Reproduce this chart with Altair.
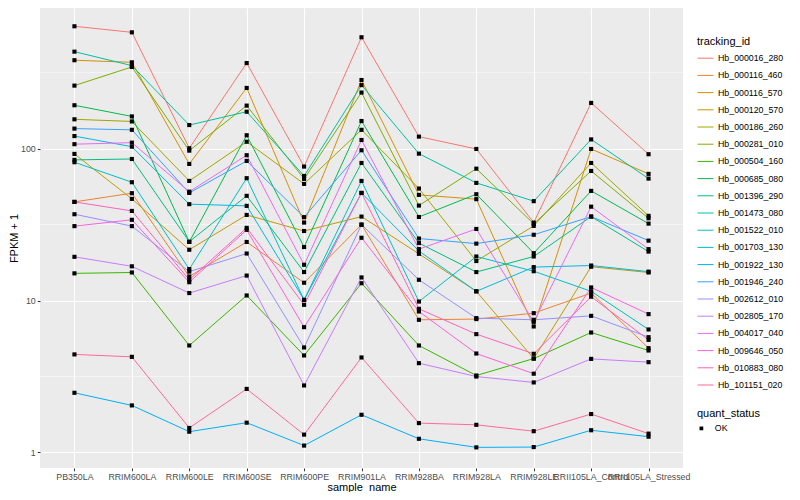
import math
import altair as alt
import pandas as pd

samples = ["PB350LA", "RRIM600LA", "RRIM600LE", "RRIM600SE", "RRIM600PE", "RRIM901LA",
           "RRIM928BA", "RRIM928LA", "RRIM928LE", "RRII105LA_Control", "RRII105LA_Stressed"]

tracking_ids = ["Hb_000016_280", "Hb_000116_460", "Hb_000116_570", "Hb_000120_570", "Hb_000186_260",
                "Hb_000281_010", "Hb_000504_160", "Hb_000685_080", "Hb_001396_290", "Hb_001473_080",
                "Hb_001522_010", "Hb_001703_130", "Hb_001922_130", "Hb_001946_240", "Hb_002612_010",
                "Hb_002805_170", "Hb_004017_040", "Hb_009646_050", "Hb_010883_080", "Hb_101151_020"]

# FPKM + 1 per sample, in the order of `samples`
hb_000016_280 = [639, 583, 100.6, 366, 76.2, 541, 120, 99.5, 32.6, 200, 91.9]
hb_000116_460 = [44.6, 50.9, 14.4, 24.3, 13.1, 31.6, 7.47, 7.55, 8.26, 11.2, 4.86]
hb_000116_570 = [382, 370, 79.3, 251, 32.6, 283, 49.6, 46.5, 6.75, 99.5, 68.2]
hb_000120_570 = [92.3, 46.7, 21.6, 36.6, 28.7, 35.7, 20.3, 11.5, 4.15, 16.7, 15.3]
hb_000186_260 = [156, 151, 61.3, 111, 58.6, 133, 54.6, 18.2, 31.0, 80.5, 36.1]
hb_000281_010 = [260, 345, 97, 192, 63.2, 234, 42.2, 73.8, 32.0, 71.3, 34.8]
hb_000504_160 = [15.1, 15.3, 5.06, 10.8, 4.35, 13.0, 5.06, 3.21, 4.15, 6.16, 4.69]
hb_000685_080 = [193, 163, 24.3, 122.5, 22.5, 152, 35.5, 50.1, 20.5, 52.7, 32.1]
hb_001396_290 = [84.3, 85.5, 24.4, 48.9, 15.4, 80.5, 23.9, 15.4, 19.5, 35.7, 21.0]
hb_001473_080 = [435, 352, 143, 175, 66.1, 262, 92.7, 59.5, 45.1, 115, 63.5]
hb_001522_010 = [81.4, 60.1, 16.1, 63.9, 10.1, 61.3, 9.85, 19.5, 15.6, 11.5, 6.45]
hb_001703_130 = [121, 103, 43.1, 42.0, 10.1, 51.1, 21.2, 11.5, 16.6, 17.0, 15.5]
hb_001922_130 = [2.47, 2.04, 1.37, 1.57, 1.11, 1.77, 1.23, 1.08, 1.085, 1.40, 1.27]
hb_001946_240 = [135.5, 133, 51.1, 83, 35.4, 97.6, 25.6, 23.7, 27.1, 35.7, 24.8]
hb_002612_010 = [37.0, 30.9, 15.5, 20.4, 4.91, 31.6, 13.7, 7.66, 7.47, 7.93, 5.74]
hb_002805_170 = [19.4, 16.8, 11.2, 14.6, 2.76, 14.2, 3.87, 3.16, 2.89, 4.13, 3.93]
hb_004017_040 = [107, 109.5, 52.1, 90.5, 17.2, 114, 21.8, 29.6, 7.24, 41.5, 21.8]
hb_009646_050 = [30.9, 34.0, 13.2, 29.2, 6.68, 25.9, 8.47, 4.48, 3.30, 12.2, 8.14]
hb_010883_080 = [44.6, 38.9, 13.7, 30.1, 9.37, 51.1, 8.82, 6.01, 4.46, 10.6, 5.51]
hb_101151_020 = [4.42, 4.26, 1.45, 2.62, 1.31, 4.22, 1.56, 1.52, 1.38, 1.79, 1.33]

series = [hb_000016_280, hb_000116_460, hb_000116_570, hb_000120_570, hb_000186_260,
          hb_000281_010, hb_000504_160, hb_000685_080, hb_001396_290, hb_001473_080,
          hb_001522_010, hb_001703_130, hb_001922_130, hb_001946_240, hb_002612_010,
          hb_002805_170, hb_004017_040, hb_009646_050, hb_010883_080, hb_101151_020]

major_breaks = [1, 10, 100]
minor_breaks = [3.1623, 31.623, 316.23]


def hcl_hex(h, c=100.0, l=65.0):
    hr = math.radians(h)
    U, V = c * math.cos(hr), c * math.sin(hr)
    Y = ((l + 16) / 116) ** 3
    xn, yn, zn = 95.047, 100.0, 108.883
    un = 4 * xn / (xn + 15 * yn + 3 * zn)
    vn = 9 * yn / (xn + 15 * yn + 3 * zn)
    u = U / (13 * l) + un
    v = V / (13 * l) + vn
    X = 9 * Y * u / (4 * v)
    Z = -X / 3 - 5 * Y + 3 * Y / v
    rgb = [3.240479 * X - 1.537150 * Y - 0.498535 * Z,
           -0.969256 * X + 1.875992 * Y + 0.041556 * Z,
           0.055648 * X - 0.204043 * Y + 1.057311 * Z]
    out = []
    for t in rgb:
        t = 12.92 * t if t <= 0.0031308 else 1.055 * t ** (1 / 2.4) - 0.055
        out.append(max(0, min(255, round(t * 255))))
    return "#%02X%02X%02X" % tuple(out)


n = len(tracking_ids)
palette = [hcl_hex(15 + 360 * k / n) for k in range(n)]

rows = []
for tid, vals in zip(tracking_ids, series):
    for s, v in zip(samples, vals):
        rows.append({"tracking_id": tid, "sample_name": s, "fpkm": v, "quant_status": "OK"})
df = pd.DataFrame(rows)
minor_df = pd.DataFrame({"fpkm": minor_breaks})

yscale = alt.Scale(type="log", domain=[0.79, 843], nice=False)
xenc = alt.X("sample_name:N", sort=samples, scale=alt.Scale(type="point", padding=0.6),
             title="sample_name",
             axis=alt.Axis(labelAngle=0, labelOverlap=False, grid=True, gridColor="white",
                           gridWidth=1.07, domain=False, tickColor="#333333", tickSize=2.75,
                           labelColor="#4D4D4D", labelFontSize=8.8, labelPadding=1.5,
                           titleFontSize=11, titleFontWeight="normal", titleColor="black",
                           titlePadding=0))
yenc = alt.Y("fpkm:Q", scale=yscale, title="FPKM + 1",
             axis=alt.Axis(values=major_breaks, format="d", labelOverlap=False, grid=True,
                           gridColor="white", gridWidth=1.07, domain=False, tickColor="#333333",
                           tickSize=2.75, labelColor="#4D4D4D", labelFontSize=8.8, labelPadding=2,
                           titleFontSize=11, titleFontWeight="normal", titleColor="black",
                           titlePadding=1.5))

minor = alt.Chart(minor_df).mark_rule(color="white", strokeWidth=0.53).encode(
    y=alt.Y("fpkm:Q", scale=yscale, title="FPKM + 1"))

lines = alt.Chart(df).mark_line(strokeWidth=1).encode(
    x=xenc, y=yenc,
    color=alt.Color("tracking_id:N", scale=alt.Scale(domain=tracking_ids, range=palette),
                    legend=alt.Legend(title="tracking_id", orient="none", legendX=657, legendY=28,
                                      symbolType="stroke", symbolStrokeWidth=1, symbolSize=256,
                                      rowPadding=3.2, labelFontSize=8.8, labelColor="black",
                                      titleFontSize=11, titleFontWeight="normal", titlePadding=2.7,
                                      labelOffset=4, labelLimit=200)),
    detail="tracking_id:N",
)

points = alt.Chart(df).mark_point(filled=True, color="black", size=17, opacity=1).encode(
    x=xenc, y=yenc,
    shape=alt.Shape("quant_status:N", scale=alt.Scale(domain=["OK"], range=["square"]),
                    legend=alt.Legend(title="quant_status", orient="none", legendX=657, legendY=400,
                                      symbolFillColor="black", symbolStrokeColor="black",
                                      symbolSize=14, labelFontSize=8.8, labelColor="black",
                                      titleFontSize=11, titleFontWeight="normal", titlePadding=5,
                                      labelOffset=9)),
)

chart = alt.layer(minor, lines, points).properties(
    width=643, height=460,
    autosize=alt.AutoSizeParams(type="none"),
    padding={"left": 32, "top": 0, "right": 105, "bottom": 24},
).configure(font="Liberation Sans").configure_view(fill="#EBEBEB", stroke=None)

chart.save("out.html", embed_options={"renderer": "svg", "actions": False})
